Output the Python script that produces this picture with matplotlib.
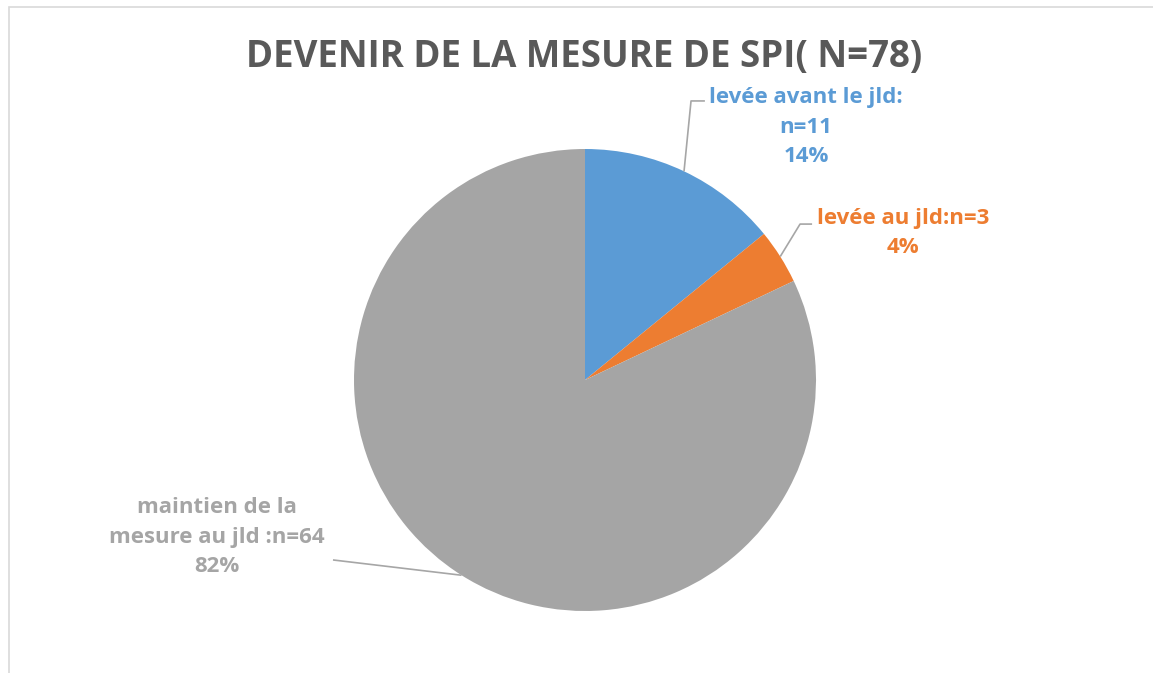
import matplotlib.pyplot as plt
import numpy as np
from matplotlib.patches import Rectangle

# data
labels = ["levée avant le jld:\nn=11", "levée au jld:n=3", "maintien de la\nmesure au jld :n=64"]
counts = [11, 3, 64]
colors = ["#5B9BD5", "#ED7D31", "#A5A5A5"]
title = "DEVENIR DE LA MESURE DE SPI( N=78)"

plt.rcParams['font.family'] = ['Open Sans', 'DejaVu Sans']

fig = plt.figure(figsize=(11.53, 6.73), dpi=100)
ax = fig.add_axes([0, 0, 1, 1])

wedges, _ = ax.pie(counts, colors=colors, startangle=90, counterclock=False,
                   radius=1, wedgeprops=dict(linewidth=0))

# pie of radius 1 = 231 px, centre at (585, 380) px from top-left
ax.set_xlim(-585 / 231, (1153 - 585) / 231)
ax.set_ylim((380 - 673) / 231, 380 / 231)
ax.set_aspect('auto')
ax.axis('off')

# label anchors (text centre) and leader elbows
text_pos = [(0.957, 1.095), (1.377, 0.636), (-1.593, -0.680)]
elbows = [[(0.459, 1.208), (0.519, 1.208)],
          [(0.931, 0.675), (0.983, 0.675)],
          [(-1.091, -0.779)]]

total = sum(counts)
for w, lab, c, n, tp, el in zip(wedges, labels, colors, counts, text_pos, elbows):
    mid = np.deg2rad((w.theta1 + w.theta2) / 2)
    x0, y0 = np.cos(mid), np.sin(mid)
    xs = [x0] + [p[0] for p in el]
    ys = [y0] + [p[1] for p in el]
    ax.plot(xs, ys, color="#a6a6a6", lw=1.2, solid_capstyle='butt')
    pct = round(100 * n / total)
    ax.text(tp[0], tp[1], f"{lab}\n{pct}%", ha='center', va='center',
            color=c, fontsize=16, fontweight='bold', linespacing=1.55)

fig.text(584.5 / 1153, 1 - 57 / 673, title, ha='center', va='center',
         fontsize=26.4, fontweight='bold', color="#595959")

fig.add_artist(Rectangle((9 / 1153, -0.1), 1.2, (673 - 7) / 673 + 0.1,
                         transform=fig.transFigure, fill=False,
                         ec="#d9d9d9", lw=1.2))

fig.savefig("out.png", dpi=100)
